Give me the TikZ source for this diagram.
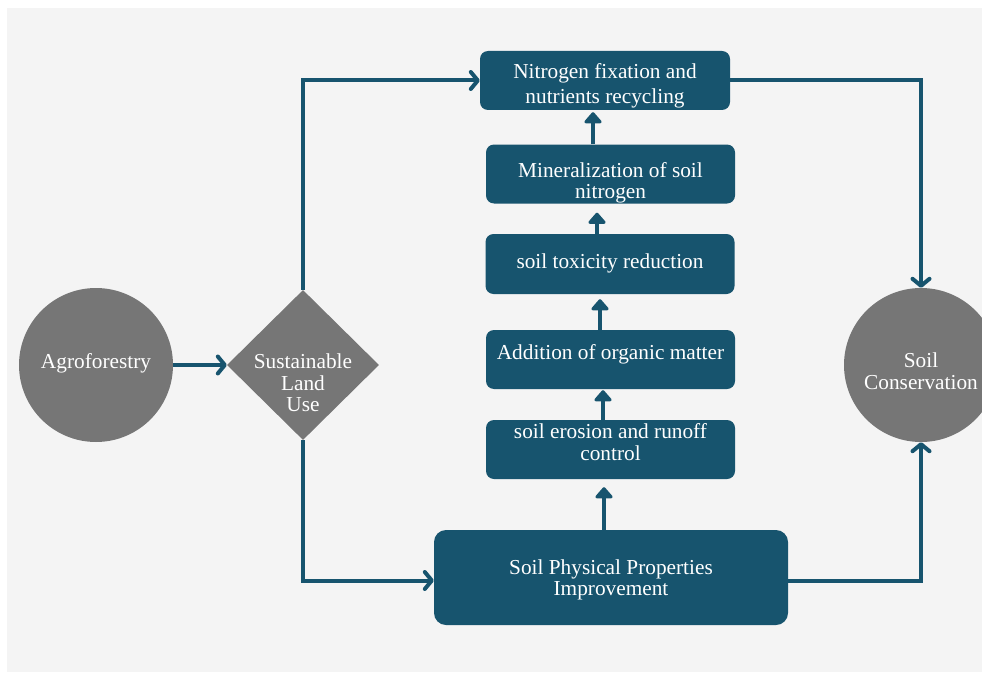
\documentclass[tikz,border=0pt]{standalone}
\usepackage{fontspec}
\setmainfont{Liberation Serif}
\usetikzlibrary{arrows.meta,shapes.geometric}
\definecolor{flowteal}{HTML}{17546E}
\definecolor{flowgray}{HTML}{767676}
\definecolor{panelgray}{HTML}{F4F4F4}
\begin{document}
\begin{tikzpicture}[x=1pt,y=-1pt,
  every node/.style={font=\fontsize{21.3}{21.5}\selectfont, text=white},
  box/.style={fill=flowteal, rounded corners=8pt, inner sep=0pt, minimum width=249pt, minimum height=59pt},
  blob/.style={circle, fill=flowgray, minimum size=154pt, inner sep=0pt},
  lbl/.style={align=center, inner sep=0pt},
  link/.style={draw=flowteal, line width=4pt},
  barb/.style={link, -{Straight Barb[length=7pt,width=17pt,round]}},
  lift/.style={link, -{Triangle[length=12pt,width=20pt,round]}}
]
% canvas and light panel
\fill[white] (0,0) rectangle (982,674);
\fill[panelgray] (7,8) rectangle (982,672);
\useasboundingbox (0,0) rectangle (982,674);

% grey start, decision and end shapes
\node[blob] (agro) at (96,365) {};
\node[lbl] (agrot) at (96,363) {Agroforestry};
\node[diamond, fill=flowgray, minimum width=152pt, minimum height=150pt, inner sep=0pt] (slu) at (303,365) {};
\node[lbl] (slut) at (303,383) {Sustainable\\Land\\Use};
\node[blob] (cons) at (921,365) {};
\node[lbl] (const) at (921,371) {Soil\\Conservation};

% teal process boxes
\node[box, minimum width=250pt] (nit) at (605,80.5) {};
\node[lbl, font=\fontsize{21.3}{25.6}\selectfont] (nitt) at (605,86) {Nitrogen fixation and\\nutrients recycling};
\node[box] (min) at (610.5,174) {};
\node[lbl] (mint) at (610.5,183) {Mineralization of soil\\nitrogen};
\node[box, minimum height=60pt] (tox) at (610,264) {};
\node[lbl] (toxt) at (610,263) {soil toxicity reduction};
\node[box] (add) at (610.5,359.5) {};
\node[lbl] (addt) at (610.5,354) {Addition of organic matter};
\node[box] (ero) at (610.5,449.5) {};
\node[lbl] (erot) at (610.5,442) {soil erosion and runoff\\control};
\node[box, rounded corners=12pt, minimum width=354pt, minimum height=95pt] (phys) at (611,577.5) {};
\node[lbl] (physt) at (611,580) {Soil Physical Properties\\Improvement};

% columns of the upward arrows
\coordinate (ax1) at (593,0);
\coordinate (ax2) at (597,0);
\coordinate (ax3) at (600,0);
\coordinate (ax4) at (603,0);
\coordinate (ax5) at (604,0);

% connectors
\draw[barb] (agro.east) -- (slu.west);
\draw[barb] (slu.north) |- (nit.west);
\draw[barb] (slu.south) |- ([yshift=-3pt]phys.west);
\draw[barb] (nit.east) -| (cons.north);
\draw[barb] ([yshift=-3pt]phys.east) -| (cons.south);

\draw[lift, shorten >=8pt] (phys.north -| ax5) -- (ero.south -| ax5);
\draw[lift, shorten >=1pt] (ero.north -| ax4) -- (add.south -| ax4);
\draw[lift, shorten >=5pt] (add.north -| ax3) -- (tox.south -| ax3);
\draw[lift, shorten >=9pt] (tox.north -| ax2) -- (min.south -| ax2);
\draw[lift, shorten >=2pt] (min.north -| ax1) -- (nit.south -| ax1);
\end{tikzpicture}
\end{document}
